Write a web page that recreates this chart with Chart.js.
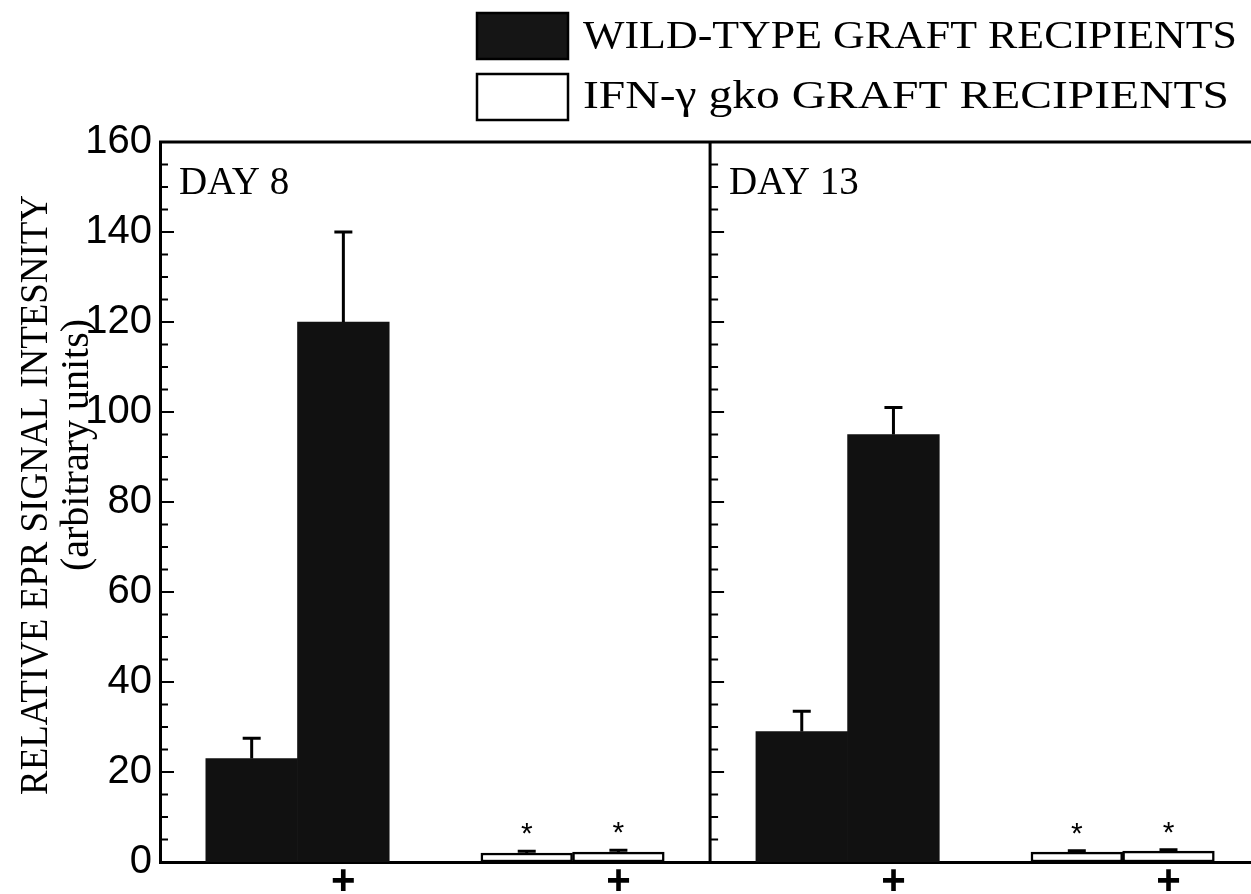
<!DOCTYPE html>
<html>
<head>
<meta charset="utf-8">
<script src="https://cdn.jsdelivr.net/npm/chart.js"></script>
<style>
  html, body { margin: 0; padding: 0; background: #fff; overflow: hidden; }
</style>
</head>
<body>
<canvas id="eprChart" width="1251" height="894"></canvas>
<script>
// values
const days = ["DAY 8", "DAY 13"];
const treatment = ["", "+"];
const wildType = [23, 120, 29, 95];
const wildTypeErr = [4.5, 20, 4.5, 6];
const gko = [2.0, 2.2, 2.2, 2.4];
const gkoErr = [0.4, 0.4, 0.3, 0.3];
const gkoStar = [true, true, true, true];
const legendLabels = ["WILD-TYPE GRAFT RECIPIENTS", "IFN-γ gko GRAFT RECIPIENTS"];
const yTitle = ["RELATIVE EPR SIGNAL INTESNITY", "(arbitrary units)"];

// each day panel is 6 slots wide on the x scale
const SLOTS = 6;
const wildSlots = [1, 2];
const gkoSlots = [4, 5];

function points(values, slots) {
  const out = [];
  days.forEach((d, di) => {
    slots.forEach((s, si) => {
      out.push({ x: di * SLOTS + s, y: values[di * slots.length + si] });
    });
  });
  return out;
}

function fitText(ctx, text, x, y, width) {
  const w = ctx.measureText(text).width;
  ctx.save();
  ctx.translate(x, y);
  ctx.scale(width / w, 1);
  ctx.fillText(text, 0, 0);
  ctx.restore();
}

const figurePlugin = {
  id: "figure",
  afterDatasetsDraw(chart) {
    const ctx = chart.ctx;
    const { left, right, top, bottom } = chart.chartArea;
    const xs = chart.scales.x, ys = chart.scales.y;
    const divX = xs.getPixelForValue(SLOTS);
    ctx.save();
    ctx.strokeStyle = "#000";
    ctx.fillStyle = "#000";

    // top frame line + divider between the two days
    ctx.lineWidth = 3;
    ctx.beginPath();
    ctx.moveTo(left - 1, top);
    ctx.lineTo(right, top);
    ctx.moveTo(divX, top);
    ctx.lineTo(divX, bottom);
    ctx.stroke();

    // inward tick marks on both vertical axes
    ctx.lineWidth = 2;
    ctx.beginPath();
    ys.ticks.forEach(t => {
      if (t.value === 0 || t.value === 160) return;
      const y = ys.getPixelForValue(t.value);
      const len = t.value % 20 === 0 ? 14 : 8;
      [left, divX].forEach(x0 => {
        ctx.moveTo(x0, y);
        ctx.lineTo(x0 + len, y);
      });
    });
    ctx.stroke();

    // error bars (upper only)
    const sets = [[wildType, wildTypeErr], [gko, gkoErr]];
    ctx.lineWidth = 3;
    sets.forEach(([vals, errs], di) => {
      chart.getDatasetMeta(di).data.forEach((bar, i) => {
        const y0 = ys.getPixelForValue(vals[i]);
        const y1 = ys.getPixelForValue(vals[i] + errs[i]);
        ctx.beginPath();
        ctx.moveTo(bar.x, y0);
        ctx.lineTo(bar.x, y1);
        ctx.moveTo(bar.x - 9, y1);
        ctx.lineTo(bar.x + 9, y1);
        ctx.stroke();
      });
    });

    // significance stars
    ctx.font = "30px 'Liberation Sans'";
    ctx.textAlign = "center";
    ctx.textBaseline = "alphabetic";
    chart.getDatasetMeta(1).data.forEach((bar, i) => {
      if (!gkoStar[i]) return;
      ctx.fillText("*", bar.x, ys.getPixelForValue(gko[i] + gkoErr[i]) - 8);
    });

    // panel labels
    ctx.font = "39px 'Liberation Serif'";
    ctx.textAlign = "left";
    days.forEach((d, di) => {
      ctx.fillText(d, xs.getPixelForValue(di * SLOTS) + 19, top + 52);
    });

    // legend
    const boxes = [["#151515", 13, 48], ["#fff", 74, 108]];
    const widths = [654, 646];
    boxes.forEach(([fill, by, base], i) => {
      ctx.fillStyle = fill;
      ctx.fillRect(477, by, 91, 46);
      ctx.lineWidth = 2.5;
      ctx.strokeRect(477, by, 91, 46);
      ctx.fillStyle = "#000";
      ctx.font = "39px 'Liberation Serif'";
      fitText(ctx, legendLabels[i], 583, base, widths[i]);
    });

    // y axis title, two lines
    ctx.save();
    ctx.translate(36, 495);
    ctx.rotate(-Math.PI / 2);
    ctx.textAlign = "left";
    ctx.textBaseline = "middle";
    ctx.font = "40px 'Liberation Serif'";
    fitText(ctx, yTitle[0], -300, 0, 600);
    ctx.restore();
    ctx.save();
    ctx.translate(77, 445);
    ctx.rotate(-Math.PI / 2);
    ctx.textAlign = "center";
    ctx.textBaseline = "middle";
    ctx.font = "40px 'Liberation Serif'";
    ctx.fillText(yTitle[1], 0, 0);
    ctx.restore();

    ctx.restore();
  }
};

new Chart(document.getElementById("eprChart").getContext("2d"), {
  type: "bar",
  data: {
    datasets: [
      {
        label: legendLabels[0],
        data: points(wildType, wildSlots),
        backgroundColor: "#111",
        borderWidth: 0,
        grouped: false,
        barPercentage: 1,
        categoryPercentage: 1
      },
      {
        label: legendLabels[1],
        data: points(gko, gkoSlots),
        backgroundColor: "#fff",
        borderColor: "#000",
        borderWidth: 2.5,
        borderSkipped: false,
        grouped: false,
        barPercentage: 1,
        categoryPercentage: 1
      }
    ]
  },
  options: {
    responsive: false,
    animation: false,
    devicePixelRatio: 1,
    layout: { padding: { top: 142, left: 0, right: 0, bottom: 0 } },
    plugins: {
      legend: { display: false },
      tooltip: { enabled: false }
    },
    scales: {
      x: {
        type: "linear",
        offset: false,
        min: 0,
        max: 11.9,
        grid: { display: false, drawTicks: false, offset: false },
        border: { display: true, color: "#000", width: 3 },
        ticks: {
          stepSize: 1,
          includeBounds: false,
          autoSkip: false,
          maxRotation: 0,
          padding: -5,
          color: "#000",
          font: { family: "'Liberation Sans'", size: 42, weight: "bold" },
          callback: v => {
            const s = v % SLOTS;
            let k = wildSlots.indexOf(s);
            if (k < 0) k = gkoSlots.indexOf(s);
            return k < 0 ? "" : treatment[k];
          }
        },
        afterFit: s => { s.height = 32; }
      },
      y: {
        min: 0,
        max: 160,
        grid: { display: false, drawTicks: false },
        border: { display: true, color: "#000", width: 3 },
        ticks: {
          stepSize: 5,
          autoSkip: false,
          padding: 8,
          color: "#000",
          font: { family: "'Liberation Sans'", size: 40 },
          callback: v => (v % 20 === 0 ? v : "")
        },
        afterFit: s => { s.width = 160; }
      }
    }
  },
  plugins: [figurePlugin]
});
</script>
</body>
</html>
